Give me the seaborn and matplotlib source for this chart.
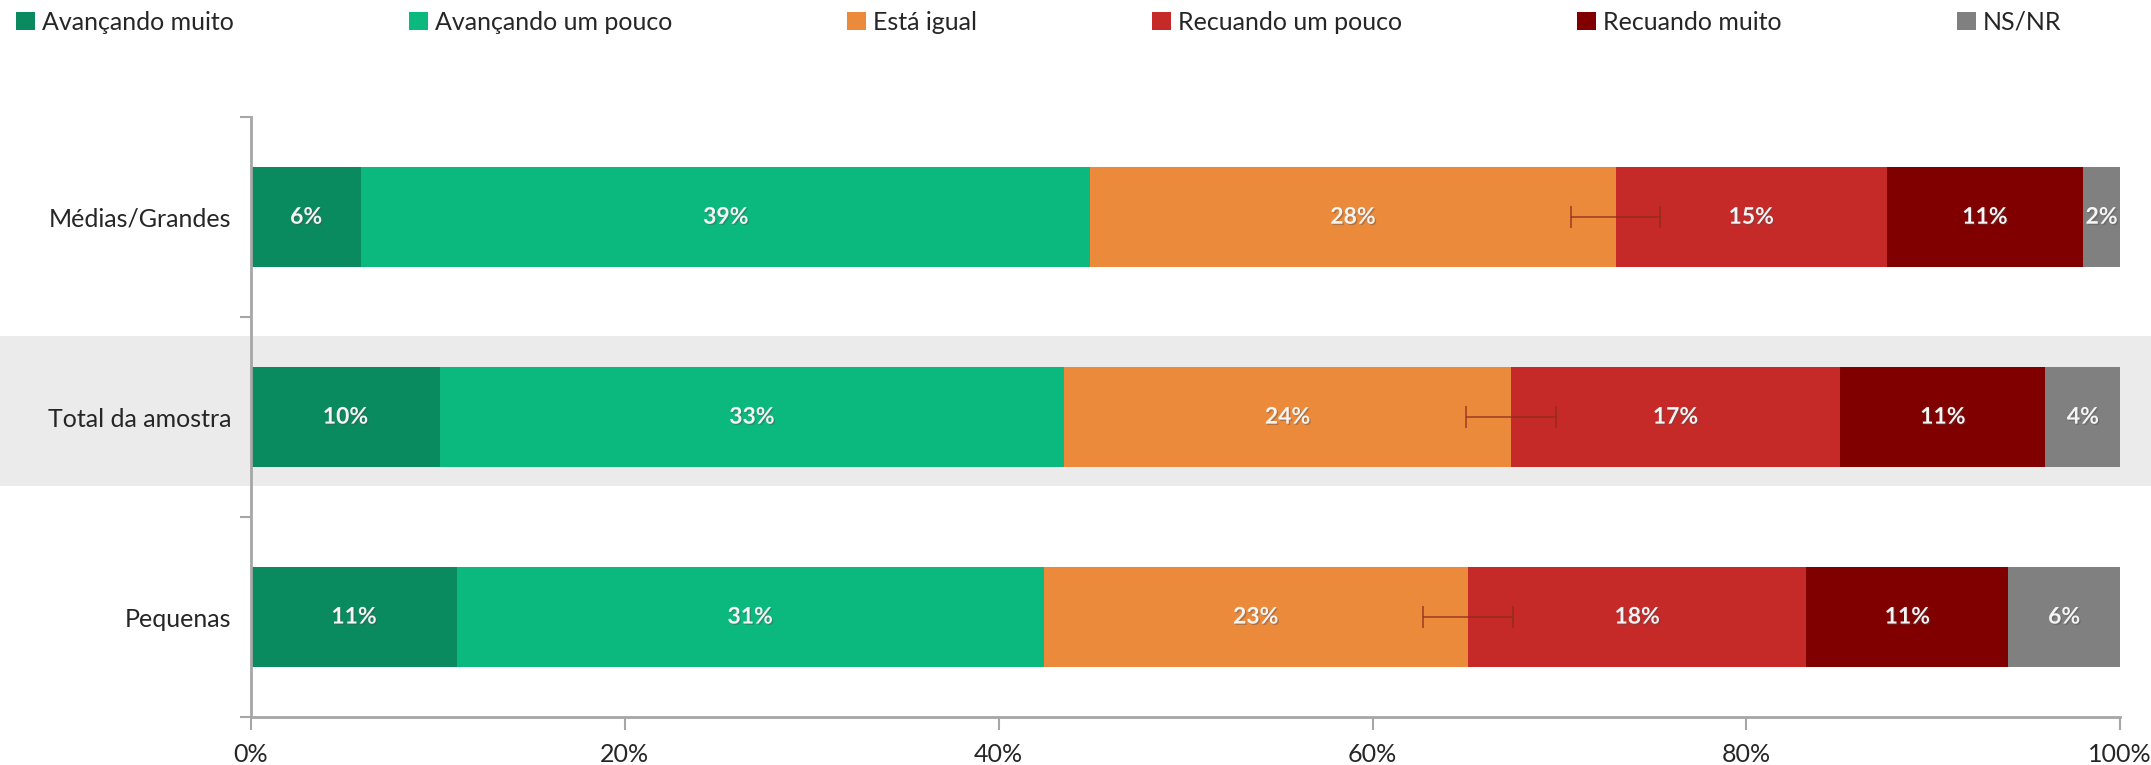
import numpy as np
import pandas as pd
import seaborn as sns
import matplotlib.pyplot as plt
import matplotlib.patheffects as pe
from matplotlib.patches import Rectangle, Patch

# ===============================
# Dados
# ===============================
grupos = ["Médias/Grandes", "Total da amostra", "Pequenas"]
respostas = ["Avançando muito", "Avançando um pouco", "Está igual",
             "Recuando um pouco", "Recuando muito", "NS/NR"]
cores = ["#0A8A5F", "#0BB97F", "#EC8A3B", "#C62A28", "#800000", "#808080"]

# percentuais (por grupo, na ordem das respostas)
medias_grandes = [5.9, 39.0, 28.1, 14.5, 10.5, 2.0]
total_amostra = [10.1, 33.4, 23.9, 17.6, 11.0, 4.0]
pequenas = [11.0, 31.4, 22.7, 18.1, 10.8, 6.0]

rotulos_mg = ["6%", "39%", "28%", "15%", "11%", "2%"]
rotulos_tot = ["10%", "33%", "24%", "17%", "11%", "4%"]
rotulos_peq = ["11%", "31%", "23%", "18%", "11%", "6%"]

erro = [2.4, 2.4, 2.4]  # margem em torno do fim de "Está igual"

xticks = [0, 20, 40, 60, 80, 100]
xtick_labels = ["0%", "20%", "40%", "60%", "80%", "100%"]

valores = np.array([medias_grandes, total_amostra, pequenas])
rotulos = [rotulos_mg, rotulos_tot, rotulos_peq]
acum = valores.cumsum(axis=1)

# ===============================
# Figura
# ===============================
sns.set_style("white")
plt.rcParams["font.family"] = ["Lato", "DejaVu Sans"]

fig = plt.figure(figsize=(21.51, 7.65), dpi=100)
ax = fig.add_axes([0.1167, 0.0627, 0.869, 0.784])
ax.set_facecolor("none")
ax.set_zorder(2)

# faixa cinza atras do "Total da amostra"
fig.patches.append(Rectangle((0, 0.3647), 1, 0.1961, transform=fig.transFigure,
                             facecolor="#EBEBEB", edgecolor="none", zorder=-1))

# barras empilhadas: desenha do acumulado maior para o menor
for i in reversed(range(len(respostas))):
    df = pd.DataFrame({"grupo": grupos, "valor": acum[:, i]})
    sns.barplot(data=df, x="valor", y="grupo", orient="h", color=cores[i],
                saturation=1, width=0.5, linewidth=0, ax=ax)

# rotulos dentro das barras
for g in range(len(grupos)):
    for i in range(len(respostas)):
        centro = acum[g, i] - valores[g, i] / 2
        ax.text(centro, g, rotulos[g][i], ha="center", va="center",
                color="#F5F5F5", fontsize=16.5, fontweight="bold",
                path_effects=[pe.withSimplePatchShadow(offset=(1, -1), alpha=0.35)])

# barras de erro
ax.errorbar(acum[:, 2], range(len(grupos)), xerr=erro, fmt="none",
            ecolor="#8B2A1A", alpha=0.75, elinewidth=1.2, capsize=8, capthick=1.2)

# ===============================
# Eixos
# ===============================
ax.set_xlim(0, 100)
ax.set_ylim(2.5, -0.5)
ax.set_xticks(xticks)
ax.set_xticklabels(xtick_labels, fontsize=18)
ax.set_xlabel("")
ax.set_ylabel("")
ax.tick_params(axis="y", which="major", left=True, length=0, pad=14, labelsize=18)
ax.set_yticks([-0.5, 0.5, 1.5, 2.5], minor=True)
ax.tick_params(axis="y", which="minor", left=True, length=8, width=1.5,
               color="#A6A6A6", direction="out")
ax.tick_params(axis="x", bottom=True, length=9, width=1.5, color="#A6A6A6",
               direction="out", pad=10)

sns.despine(ax=ax, top=True, right=True)
for s in ["left", "bottom"]:
    ax.spines[s].set_color("#A6A6A6")
    ax.spines[s].set_linewidth(2)

# legenda
handles = [Patch(facecolor=c, edgecolor="none") for c in cores]
fig.legend(handles, respostas, loc="center", ncol=6, mode="expand",
           bbox_to_anchor=(0.0074, 0.951, 0.951, 0.04), frameon=False,
           fontsize=18, handlelength=0.75, handleheight=0.75, handletextpad=0.3,
           borderpad=0, borderaxespad=0)

fig.savefig("out.png", dpi=100)
